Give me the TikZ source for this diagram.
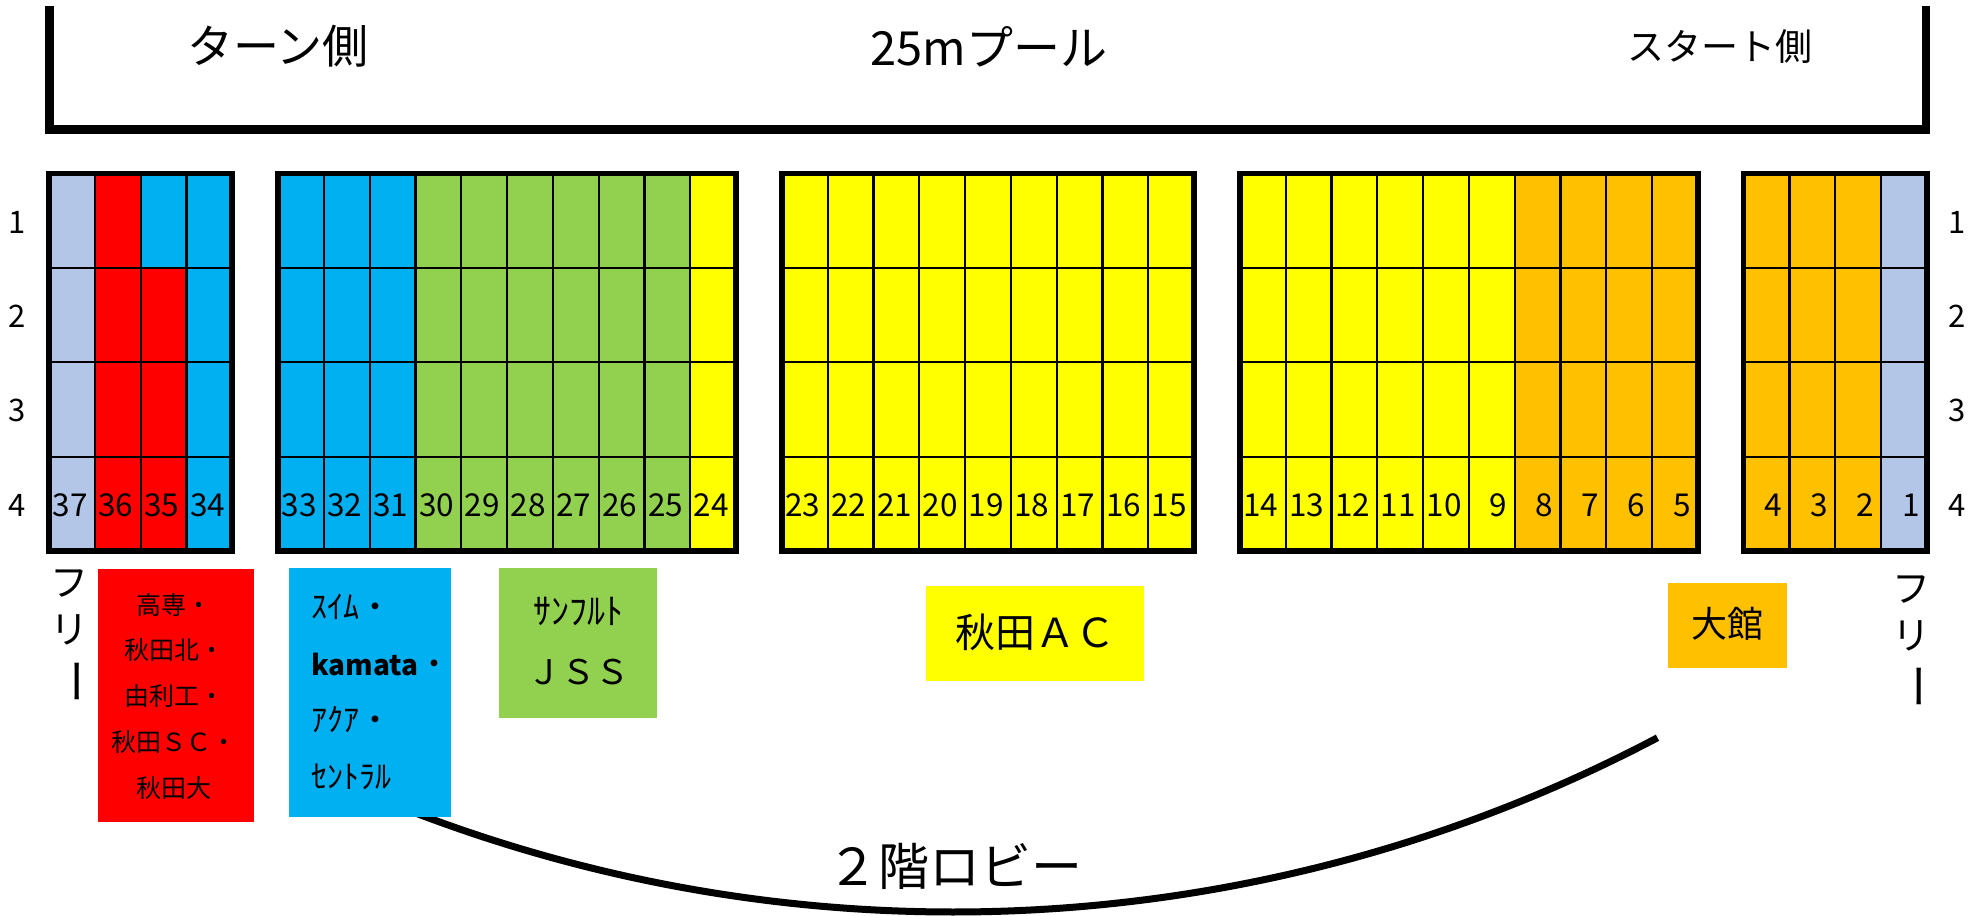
\documentclass[tikz,border=0pt]{standalone}
\usepackage{fontspec}
\setmainfont{Noto Sans CJK JP}
\definecolor{lb}{HTML}{B4C6E7}
\definecolor{rd}{HTML}{FF0000}
\definecolor{bl}{HTML}{00B0F0}
\definecolor{gr}{HTML}{92D050}
\definecolor{ye}{HTML}{FFFF00}
\definecolor{og}{HTML}{FFC000}
\newcommand\myfs[2]{\fontsize{#1}{#2}\selectfont}
\tikzset{
  gridline/.style={line width=2.2pt, black},
  blockline/.style={line width=5.5pt, black},
  num/.style={font=\myfs{31.5}{31.5}, inner sep=0pt},
  rowlab/.style={font=\myfs{31}{31}, inner sep=0pt},
  title/.style={inner sep=0pt},
  teambox/.style={inner sep=0pt},
}
\begin{document}
\begin{tikzpicture}[x=1pt,y=-1pt]
\useasboundingbox (0,0) rectangle (1982,916);
\def\W{45.8}
\def\X{49}
\def\T{173.5}
\def\H{94.375}
% title bracket
\fill (45,6) rectangle (54,134);
\fill (1922,6) rectangle (1930,134);
\fill (45,125) rectangle (1930,134);
\node[title, font=\myfs{46}{46}] (turn) at (278,46) {ターン側};
\node[title, font=\myfs{47}{47}] (pool) at (989,47) {25mプール};
\node[title, font=\myfs{37}{37}] (start) at (1720,47) {スタート側};
% seat fills
\foreach \k/\c in {0/lb,1/rd,2/rd,3/bl,5/bl,6/bl,7/bl,8/gr,9/gr,10/gr,11/gr,12/gr,13/gr,14/ye,16/ye,17/ye,18/ye,19/ye,20/ye,21/ye,22/ye,23/ye,24/ye,26/ye,27/ye,28/ye,29/ye,30/ye,31/ye,32/og,33/og,34/og,35/og,37/og,38/og,39/og,40/lb}
  \fill[\c] ({\X+\W*\k},\T) rectangle ({\X+\W*(\k+1)},{\T+4*\H});
\fill[bl] ({\X+\W*2},\T) rectangle ({\X+\W*3},{\T+\H});
% grid
\foreach \a/\b in {0/4,5/15,16/25,26/36,37/41}{
  \foreach \r in {1,2,3}
    \draw[gridline] ({\X+\W*\a},{\T+\H*\r}) -- ({\X+\W*\b},{\T+\H*\r});
  \pgfmathtruncatemacro\aa{\a+1}
  \pgfmathtruncatemacro\bb{\b-1}
  \foreach \k in {\aa,...,\bb}
    \draw[gridline] ({\X+\W*\k},\T) -- ({\X+\W*\k},{\T+4*\H});
  \draw[blockline] ({\X+\W*\a},\T) rectangle ({\X+\W*\b},{\T+4*\H});
}
% seat numbers
\foreach \s in {1,...,37}{
  \pgfmathtruncatemacro\k{ifthenelse(\s>33,37-\s,ifthenelse(\s>23,38-\s,ifthenelse(\s>14,39-\s,ifthenelse(\s>4,40-\s,41-\s))))}
  \node[num, anchor=east] (s\s) at ({\X+\W*(\k+1)-7},505) {\s};
}
% row labels
\foreach \r in {1,2,3,4}{
  \node[rowlab] (L\r) at (17,{\T+\H*(\r-0.5)+1.5}) {\r};
  \node[rowlab] (R\r) at (1957,{\T+\H*(\r-0.5)+1.5}) {\r};
}
% lobby arc
\coordinate (lobbyL) at (395,805);
\draw[line width=7pt] (lobbyL) arc[start angle=248.3, end angle=297.8, radius=1510pt];
\node[title, font=\myfs{51}{51}] (lobby) at (955,866) {２階ロビー};
% free labels
\node[title, font=\myfs{38}{38}] (fL1) at (69,584) {フ};
\node[title, font=\myfs{38}{38}] (fL2) at (69,630) {リ};
\node[title, font=\myfs{46}{46}, rotate=-90] (fL3) at (69,681) {ー};
\node[title, font=\myfs{38}{38}] (fR1) at (1911,590) {フ};
\node[title, font=\myfs{38}{38}] (fR2) at (1911,636) {リ};
\node[title, font=\myfs{46}{46}, rotate=-90] (fR3) at (1911,686) {ー};
% team boxes
\fill[rd] (98,569) rectangle (254,822);
\node[teambox, align=center, font=\myfs{25}{45.75}] (red) at (174,696) {高専・\\秋田北・\\由利工・\\秋田ＳＣ・\\秋田大};
\fill[bl] (289,568) rectangle (451,817);
\node[teambox, align=left, anchor=west, font=\myfs{32}{56.5}] (blue) at (311,692) {ｽｲﾑ・\\{\myfs{28}{56.5}\textbf{kamata}}・\\ｱｸｱ・\\ｾﾝﾄﾗﾙ};
\fill[gr] (499,568) rectangle (657,718);
\node[teambox, align=center, font=\myfs{34}{60}] (green) at (578,641) {{\myfs{36}{60}ｻﾝﾌﾙﾄ}\\ＪＳＳ};
\fill[ye] (926,586) rectangle (1144,681);
\node[teambox, font=\myfs{40}{40}] (yellow) at (1035,632) {秋田ＡＣ};
\fill[og] (1668,583) rectangle (1787,668);
\node[teambox, font=\myfs{36}{36}] (orange) at (1727,624) {大館};
\end{tikzpicture}
\end{document}
